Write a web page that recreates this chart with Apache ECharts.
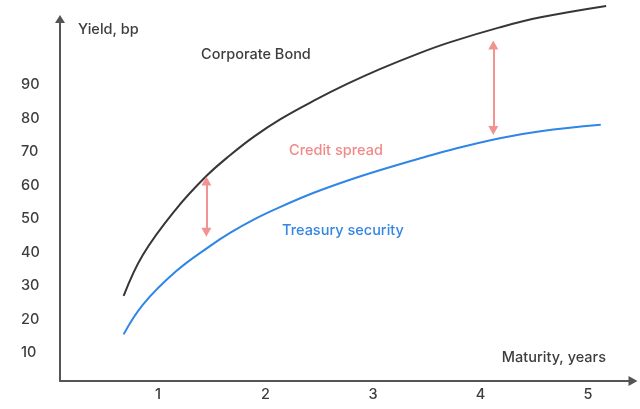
<!DOCTYPE html>
<html>
<head>
<meta charset="utf-8">
<script src="https://cdn.jsdelivr.net/npm/echarts@6.0.0/dist/echarts.min.js"></script>
<style>
html,body{margin:0;padding:0;background:#fff;}
#chart{width:640px;height:409px;}
</style>
</head>
<body>
<div id="chart"></div>
<script>
// Maturity (years) and yield (bp)
const corporateX = [0.68, 0.86, 1.17, 1.45, 1.67, 1.89, 2.14, 2.45, 2.76, 3.07, 3.44, 3.72, 4.18, 4.56, 5.17];
const corporateY = [27.0, 39.3, 53.0, 62.8, 69.0, 74.5, 79.8, 85.3, 90.3, 94.8, 99.6, 102.8, 107.2, 110.2, 113.6];
const treasuryX = [0.68, 0.86, 1.17, 1.48, 1.67, 1.89, 2.14, 2.45, 2.76, 3.07, 3.44, 3.72, 4.18, 4.56, 5.12];
const treasuryY = [15.5, 24.4, 34.4, 41.8, 45.8, 49.8, 53.6, 57.8, 61.4, 64.6, 68.1, 70.6, 74.1, 76.2, 78.1];
// Credit-spread arrows: maturity, upper end, lower end
const spreadX = [1.45, 4.12];
const spreadTop = [61.3, 101.9];
const spreadBottom = [46.0, 76.4];
// Tick labels
const xTicks = [1, 2, 3, 4, 5];
const yTicks = [10, 20, 30, 40, 50, 60, 70, 80, 90];

const FONT = 'Inter, "Open Sans", sans-serif';
const TEXT = '#3d3d3d';
const AXIS = '#555555';

const pairs = (xs, ys) => xs.map((x, i) => [x, ys[i]]);

const chart = echarts.init(document.getElementById('chart'), null, {renderer: 'canvas'});
chart.setOption({
  animation: false,
  backgroundColor: '#ffffff',
  grid: {left: 60, right: 7, top: 19, bottom: 28},
  xAxis: {
    type: 'value',
    min: 0.088,
    max: 5.42,
    name: 'Maturity, years',
    nameLocation: 'end',
    nameGap: -27,
    nameTextStyle: {color: TEXT, fontFamily: FONT, fontSize: 14.5, fontWeight: 500, align: 'right', verticalAlign: 'bottom', padding: [0, 0, 16, 0]},
    axisLine: {show: true, symbol: ['none', 'triangle'], symbolSize: [10, 9], lineStyle: {color: AXIS, width: 2}},
    axisTick: {show: false},
    splitLine: {show: false},
    axisLabel: {customValues: xTicks, color: TEXT, fontFamily: FONT, fontSize: 14.5, fontWeight: 500, margin: 6}
  },
  yAxis: {
    type: 'value',
    min: 1.58,
    max: 109.7,
    name: 'Yield, bp',
    nameLocation: 'end',
    nameGap: -11,
    nameTextStyle: {color: TEXT, fontFamily: FONT, fontSize: 14.5, fontWeight: 500, align: 'left', verticalAlign: 'middle', padding: [0, 0, 0, 18]},
    axisLine: {show: true, symbol: ['none', 'triangle'], symbolSize: [10, 8], lineStyle: {color: AXIS, width: 2}},
    axisTick: {show: false},
    splitLine: {show: false},
    axisLabel: {customValues: yTicks, color: TEXT, fontFamily: FONT, fontSize: 14.5, fontWeight: 500, align: 'left', margin: 39}
  },
  series: [
    {
      name: 'Corporate Bond',
      type: 'line',
      data: pairs(corporateX, corporateY),
      smooth: 0.4,
      showSymbol: false,
      clip: false,
      lineStyle: {color: '#363636', width: 2}
    },
    {
      name: 'Treasury security',
      type: 'line',
      data: pairs(treasuryX, treasuryY),
      smooth: 0.4,
      showSymbol: false,
      clip: false,
      lineStyle: {color: '#2f86e6', width: 2},
      markLine: {
        silent: true,
        symbol: ['triangle', 'triangle'],
        symbolSize: [10, 9],
        label: {show: false},
        lineStyle: {color: '#f29391', width: 2, type: 'solid'},
        data: spreadX.map((x, i) => [
          {coord: [x, spreadTop[i]]},
          {coord: [x, spreadBottom[i]]}
        ])
      }
    }
  ],
  graphic: [
    {type: 'text', x: 201, y: 55, style: {text: 'Corporate Bond', fill: TEXT, font: '500 14.5px ' + FONT, verticalAlign: 'middle'}},
    {type: 'text', x: 289, y: 151, style: {text: 'Credit spread', fill: '#f08a88', font: '500 14.5px ' + FONT, verticalAlign: 'middle'}},
    {type: 'text', x: 282, y: 231, style: {text: 'Treasury security', fill: '#3486e3', font: '500 14.5px ' + FONT, verticalAlign: 'middle'}}
  ]
});
</script>
</body>
</html>
